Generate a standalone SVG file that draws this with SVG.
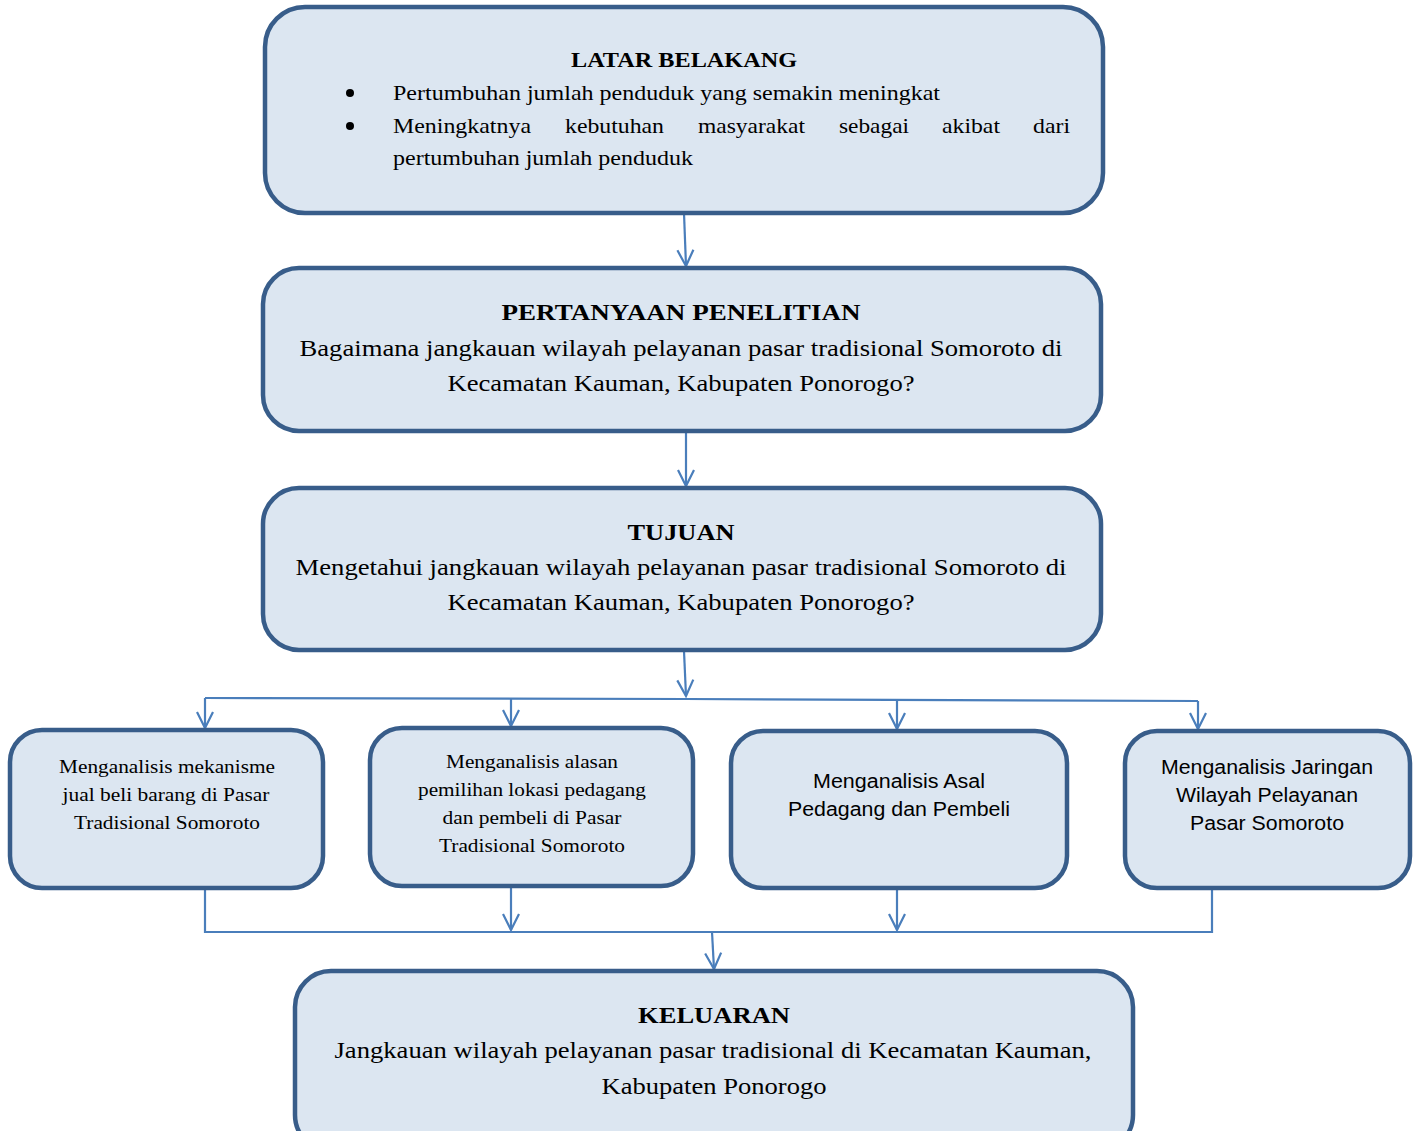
<svg xmlns="http://www.w3.org/2000/svg" width="1417" height="1131" viewBox="0 0 1417 1131">
<defs>
<style>
.box{fill:#dce6f1;stroke:#385d8a;stroke-width:4.5}
.con{fill:none;stroke:#4a7ebb;stroke-width:2.2}
.t{font-family:"Liberation Serif","Times New Roman",serif;fill:#000}
.h{font-weight:bold;font-size:24px;text-anchor:middle}
.b{font-size:23px;text-anchor:middle}
.l{font-size:21px}
.s{font-size:19px;text-anchor:middle}
.a{font-family:"Liberation Sans",Arial,sans-serif;font-size:20px;text-anchor:middle;fill:#000}
</style>
<marker id="ar" viewBox="0 0 20 20" refX="18" refY="10" markerWidth="20" markerHeight="20" markerUnits="userSpaceOnUse" orient="auto">
<path d="M2,2 L18,10 L2,18" fill="none" stroke="#4a7ebb" stroke-width="2.2"/>
</marker>
</defs>
<rect width="1417" height="1131" fill="#fff"/>

<g id="connectors">
<line class="con" x1="684" y1="213" x2="686" y2="266" marker-end="url(#ar)"/>
<line class="con" x1="686" y1="431" x2="686" y2="486" marker-end="url(#ar)"/>
<line class="con" x1="684" y1="651" x2="686" y2="696" marker-end="url(#ar)"/>
<polyline class="con" points="205,698 686,699 1198,701"/>
<line class="con" x1="205" y1="698" x2="205" y2="728" marker-end="url(#ar)"/>
<line class="con" x1="511" y1="699" x2="511" y2="726" marker-end="url(#ar)"/>
<line class="con" x1="897" y1="700" x2="897" y2="729" marker-end="url(#ar)"/>
<line class="con" x1="1198" y1="701" x2="1198" y2="729" marker-end="url(#ar)"/>
<polyline class="con" points="205,888 205,932 1212,932 1212,888"/>
<line class="con" x1="511" y1="886" x2="511" y2="930" marker-end="url(#ar)"/>
<line class="con" x1="897" y1="888" x2="897" y2="930" marker-end="url(#ar)"/>
<line class="con" x1="712" y1="932" x2="714" y2="969" marker-end="url(#ar)"/>
</g>

<g id="latar">
<rect class="box" x="265" y="7" width="838" height="206" rx="40"/>
<text class="t h" x="684" y="67" style="font-size:22px" textLength="226" lengthAdjust="spacingAndGlyphs">LATAR BELAKANG</text>
<circle cx="350" cy="93" r="4" fill="#000"/>
<circle cx="350" cy="126" r="4" fill="#000"/>
<text class="t l" x="393" y="100" textLength="547" lengthAdjust="spacingAndGlyphs">Pertumbuhan jumlah penduduk yang semakin meningkat</text>
<text class="t l" x="393" y="133" textLength="138" lengthAdjust="spacingAndGlyphs">Meningkatnya</text>
<text class="t l" x="565" y="133" textLength="99" lengthAdjust="spacingAndGlyphs">kebutuhan</text>
<text class="t l" x="698" y="133" textLength="107" lengthAdjust="spacingAndGlyphs">masyarakat</text>
<text class="t l" x="839" y="133" textLength="70" lengthAdjust="spacingAndGlyphs">sebagai</text>
<text class="t l" x="942" y="133" textLength="58" lengthAdjust="spacingAndGlyphs">akibat</text>
<text class="t l" x="1033" y="133" textLength="37" lengthAdjust="spacingAndGlyphs">dari</text>
<text class="t l" x="393" y="165" textLength="300" lengthAdjust="spacingAndGlyphs">pertumbuhan jumlah penduduk</text>
</g>

<g id="pertanyaan">
<rect class="box" x="263" y="268" width="838" height="163" rx="36"/>
<text class="t h" x="681" y="320" textLength="359" lengthAdjust="spacingAndGlyphs">PERTANYAAN PENELITIAN</text>
<text class="t b" x="681" y="356" textLength="763" lengthAdjust="spacingAndGlyphs">Bagaimana jangkauan wilayah pelayanan pasar tradisional Somoroto di</text>
<text class="t b" x="681" y="391" textLength="467" lengthAdjust="spacingAndGlyphs">Kecamatan Kauman, Kabupaten Ponorogo?</text>
</g>

<g id="tujuan">
<rect class="box" x="263" y="488" width="838" height="162" rx="36"/>
<text class="t h" x="681" y="540" textLength="107" lengthAdjust="spacingAndGlyphs">TUJUAN</text>
<text class="t b" x="681" y="575" textLength="771" lengthAdjust="spacingAndGlyphs">Mengetahui jangkauan wilayah pelayanan pasar tradisional Somoroto di</text>
<text class="t b" x="681" y="610" textLength="467" lengthAdjust="spacingAndGlyphs">Kecamatan Kauman, Kabupaten Ponorogo?</text>
</g>

<g id="analisis1">
<rect class="box" x="10" y="730" width="313" height="158" rx="32"/>
<text class="t s" x="167" y="773" textLength="216" lengthAdjust="spacingAndGlyphs">Menganalisis mekanisme</text>
<text class="t s" x="166" y="801" textLength="207" lengthAdjust="spacingAndGlyphs">jual beli barang di Pasar</text>
<text class="t s" x="167" y="829" textLength="186" lengthAdjust="spacingAndGlyphs">Tradisional Somoroto</text>
</g>

<g id="analisis2">
<rect class="box" x="370" y="728" width="323" height="158" rx="32"/>
<text class="t s" x="532" y="768" textLength="172" lengthAdjust="spacingAndGlyphs">Menganalisis alasan</text>
<text class="t s" x="532" y="796" textLength="228" lengthAdjust="spacingAndGlyphs">pemilihan lokasi pedagang</text>
<text class="t s" x="532" y="824" textLength="179" lengthAdjust="spacingAndGlyphs">dan pembeli di Pasar</text>
<text class="t s" x="532" y="852" textLength="186" lengthAdjust="spacingAndGlyphs">Tradisional Somoroto</text>
</g>

<g id="analisis3">
<rect class="box" x="731" y="731" width="336" height="157" rx="32"/>
<text class="a" x="899" y="788" textLength="172" lengthAdjust="spacingAndGlyphs">Menganalisis Asal</text>
<text class="a" x="899" y="816" textLength="222" lengthAdjust="spacingAndGlyphs">Pedagang dan Pembeli</text>
</g>

<g id="analisis4">
<rect class="box" x="1125" y="731" width="285" height="157" rx="32"/>
<text class="a" x="1267" y="774" textLength="212" lengthAdjust="spacingAndGlyphs">Menganalisis Jaringan</text>
<text class="a" x="1267" y="802" textLength="182" lengthAdjust="spacingAndGlyphs">Wilayah Pelayanan</text>
<text class="a" x="1267" y="830" textLength="154" lengthAdjust="spacingAndGlyphs">Pasar Somoroto</text>
</g>

<g id="keluaran">
<rect class="box" x="295" y="971" width="838" height="180" rx="36"/>
<text class="t h" x="714" y="1023" textLength="152" lengthAdjust="spacingAndGlyphs">KELUARAN</text>
<text class="t b" x="713" y="1058" textLength="757" lengthAdjust="spacingAndGlyphs">Jangkauan wilayah pelayanan pasar tradisional di Kecamatan Kauman,</text>
<text class="t b" x="714" y="1094" textLength="225" lengthAdjust="spacingAndGlyphs">Kabupaten Ponorogo</text>
</g>
</svg>
